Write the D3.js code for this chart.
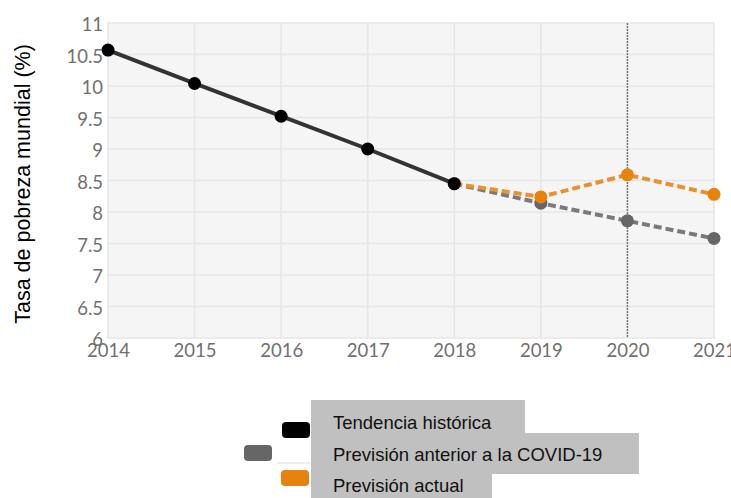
<!DOCTYPE html>
<html>
<head>
<meta charset="utf-8">
<script src="https://cdn.jsdelivr.net/npm/d3@7"></script>
<style>
  body { margin: 0; background: #fff; overflow: hidden; }
  .tick text { font-family: Lato, sans-serif; font-size: 18.5px; fill: #707070; }
  .label { font-family: "Liberation Sans", Arial, sans-serif; font-size: 21.5px; fill: #000; }
  .leg { font-family: "Liberation Sans", Arial, sans-serif; font-size: 18.5px; fill: #111; }
</style>
</head>
<body>
<svg class="chart" width="731" height="498"></svg>
<script>
var years = [2014, 2015, 2016, 2017, 2018, 2019, 2020, 2021];
var yTicks = [6, 6.5, 7, 7.5, 8, 8.5, 9, 9.5, 10, 10.5, 11];

var historic = [
  {year: 2014, value: 10.57},
  {year: 2015, value: 10.04},
  {year: 2016, value: 9.52},
  {year: 2017, value: 9.0},
  {year: 2018, value: 8.45}
];
var preCovid = [
  {year: 2018, value: 8.45},
  {year: 2019, value: 8.14},
  {year: 2020, value: 7.86},
  {year: 2021, value: 7.58}
];
var current = [
  {year: 2018, value: 8.45},
  {year: 2019, value: 8.24},
  {year: 2020, value: 8.59},
  {year: 2021, value: 8.28}
];
var legendLabels = ["Tendencia histórica", "Previsión anterior a la COVID-19", "Previsión actual"];
var markerYear = 2020;

var margin = {top: 23, left: 108, right: 17, bottom: 160},
    width = 731 - margin.left - margin.right,
    height = 498 - margin.top - margin.bottom;

var svg = d3.select(".chart");
var g = svg.append("g")
    .attr("transform", "translate(" + margin.left + "," + margin.top + ")");

var x = d3.scaleLinear().domain([2014, 2021]).range([0, width]);
var y = d3.scaleLinear().domain([6, 11]).range([height, 0]);

g.append("rect")
    .attr("width", width + 1)
    .attr("height", height)
    .attr("fill", "#f5f5f5");

// grid
g.selectAll(".hgrid").data(yTicks).enter().append("line")
    .attr("x1", 0).attr("x2", width + 1)
    .attr("y1", function(d) { return y(d); })
    .attr("y2", function(d) { return y(d); })
    .attr("stroke", "#e6e6e6").attr("stroke-width", 1.5);

g.selectAll(".vgrid").data(years).enter().append("line")
    .attr("y1", 0).attr("y2", height)
    .attr("x1", function(d) { return x(d); })
    .attr("x2", function(d) { return x(d); })
    .attr("stroke", "#e6e6e6").attr("stroke-width", 1.5);

g.append("line")
    .attr("x1", x(markerYear)).attr("x2", x(markerYear))
    .attr("y1", 0).attr("y2", height)
    .attr("stroke", "#777").attr("stroke-width", 1.5)
    .attr("stroke-dasharray", "2,1");

// axes
var xAxis = g.append("g")
    .attr("transform", "translate(0," + height + ")")
    .call(d3.axisBottom(x).tickValues(years).tickFormat(d3.format("d")).tickSize(0).tickPadding(6));
xAxis.select(".domain").remove();

var yAxis = g.append("g")
    .call(d3.axisLeft(y).tickValues(yTicks).tickFormat(function(d) { return String(d); }).tickSize(0).tickPadding(5));
yAxis.select(".domain").remove();
yAxis.selectAll(".tick text").attr("dy", "0.42em");

svg.append("text")
    .attr("class", "label")
    .attr("transform", "translate(30," + 184 + ") rotate(-90)")
    .style("text-anchor", "middle")
    .text("Tasa de pobreza mundial (%)");

var line = d3.line()
    .x(function(d) { return x(d.year); })
    .y(function(d) { return y(d.value); });

var series = [
  {data: preCovid, stroke: "#7a7a7a", dot: "#666", dash: "8,4"},
  {data: current, stroke: "#e8912e", dot: "#e6820e", dash: "8,4"},
  {data: historic, stroke: "#333", dot: "#000", dash: null}
];

series.forEach(function(s) {
  g.append("path")
      .datum(s.data)
      .attr("fill", "none")
      .attr("stroke", s.stroke)
      .attr("stroke-width", 4)
      .attr("stroke-dasharray", s.dash)
      .attr("d", line);
  g.selectAll(null).data(s.data).enter().append("circle")
      .attr("cx", function(d) { return x(d.year); })
      .attr("cy", function(d) { return y(d.value); })
      .attr("r", 6.5)
      .attr("fill", s.dot);
});

// legend
var legendBoxes = [
  {x: 311, y: 400, w: 214, h: 33},
  {x: 311, y: 433, w: 328, h: 41},
  {x: 311, y: 474, w: 181, h: 24}
];
var swatches = [
  {x: 282, y: 422, c: "#000"},
  {x: 244, y: 445, c: "#666"},
  {x: 281, y: 470, c: "#e6820e"}
];
var baselines = [429, 461, 492];

svg.selectAll(".lbox").data(legendBoxes).enter().append("rect")
    .attr("x", function(d) { return d.x; })
    .attr("y", function(d) { return d.y; })
    .attr("width", function(d) { return d.w; })
    .attr("height", function(d) { return d.h; })
    .attr("fill", "#c0c0c0");

svg.append("line")
    .attr("x1", 277).attr("x2", 311).attr("y1", 463).attr("y2", 463)
    .attr("stroke", "#ddd").attr("stroke-width", 1);

svg.selectAll(".sw").data(swatches).enter().append("rect")
    .attr("x", function(d) { return d.x; })
    .attr("y", function(d) { return d.y; })
    .attr("width", 28).attr("height", 16)
    .attr("rx", 4)
    .attr("fill", function(d) { return d.c; });

svg.selectAll(".leg").data(legendLabels).enter().append("text")
    .attr("class", "leg")
    .attr("x", 333)
    .attr("y", function(d, i) { return baselines[i]; })
    .text(function(d) { return d; });
</script>
</body>
</html>
